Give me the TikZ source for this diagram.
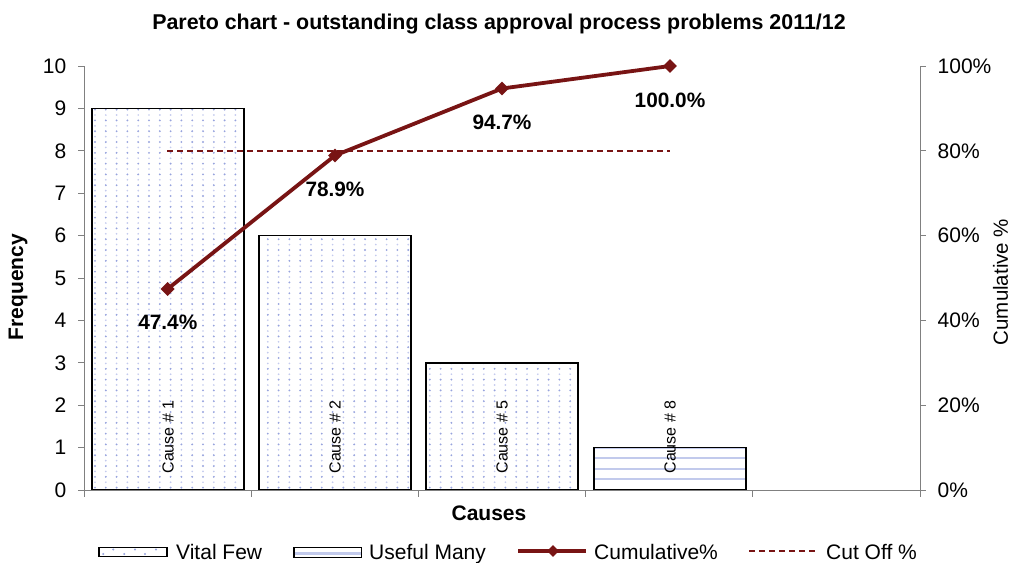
\documentclass[tikz,border=0pt]{standalone}
\usepackage{fontspec}
\setmainfont{Liberation Sans}
\usetikzlibrary{shapes.geometric}
\definecolor{maroon}{HTML}{781414}
\definecolor{dotblue}{HTML}{97A3DD}
\definecolor{dotlight}{HTML}{C4CBEE}
\definecolor{lineblue}{HTML}{C2CAEC}
\definecolor{axisgray}{HTML}{808080}
% #1,#2,#3,#4 = bar box; #5,#6 = first and last column index of the global dot grid
\newcommand\mydotgrid[6]{%
  \begin{scope}
    \clip (#1,#2) rectangle (#3,#4);
    \foreach \i in {#5,...,#6}{
      \foreach \j in {0,...,35}{
        \fill[dotblue] ({95+\i*10.8},{109.6+\j*10.8}) circle (1.05);
        \fill[dotlight] ({95+\i*10.8},{115+\j*10.8}) circle (0.95);
      }
    }
  \end{scope}}
\begin{document}
\begin{tikzpicture}[x=1pt,y=-1pt,
  ticklab/.style={font=\fontsize{21}{24}\selectfont, inner sep=0pt},
  axisline/.style={draw=axisgray, line width=1pt},
  barbox/.style={draw=black, line width=1.6pt},
  causelab/.style={font=\fontsize{16}{19}\selectfont, rotate=90, inner sep=0pt},
  pctlab/.style={font=\bfseries\fontsize{20.8}{24}\selectfont, inner sep=0pt},
  axtitle/.style={font=\bfseries\fontsize{21}{24}\selectfont, inner sep=0pt},
  cumline/.style={draw=maroon, line width=3.8pt, line join=round},
  marker/.style={diamond, fill=maroon, inner sep=0pt, minimum width=14pt, minimum height=14pt},
  cutline/.style={draw=maroon, line width=1.6pt, dash pattern=on 6pt off 4pt},
  legtext/.style={font=\fontsize{21}{24}\selectfont, anchor=base west, inner sep=0pt}]
\useasboundingbox (0,0) rectangle (1011,562);
\fill[white] (0,0) rectangle (1011,562);

% title
\node[font=\bfseries\fontsize{21.4}{25}\selectfont, inner sep=0pt] (title) at (499,24) {Pareto chart - outstanding class approval process problems 2011/12};

% bars
\mydotgrid{92}{108.4}{244}{490}{0}{13}
\mydotgrid{259}{235.6}{411}{490}{16}{29}
\mydotgrid{426}{362.8}{578}{490}{31}{44}
\begin{scope}
  \clip (594,447.6) rectangle (746,490);
  \foreach \yy in {447.8,458.3,468.6,479.2}
    \draw[lineblue, line width=2.2pt] (594,\yy) -- (746,\yy);
\end{scope}
\draw[barbox] (92,490) rectangle (244,108.4) coordinate (bar1);
\draw[barbox] (259,490) rectangle (411,235.6) coordinate (bar2);
\draw[barbox] (426,490) rectangle (578,362.8) coordinate (bar3);
\draw[barbox] (594,490) rectangle (746,447.6) coordinate (bar4);

\node[causelab] (c1) at (168,437) {Cause \# 1};
\node[causelab] (c2) at (335,437) {Cause \# 2};
\node[causelab] (c3) at (502,437) {Cause \# 5};
\node[causelab] (c4) at (670,437) {Cause \# 8};

% axes
\draw[axisline] (84,66) -- (84,490);
\draw[axisline] (920,66) -- (920,497);
\draw[axisline] (84,490) -- (920,490);
\foreach \k in {0,...,10}{
  \draw[axisline] (78,{490-42.4*\k}) -- (84,{490-42.4*\k});
  \node[ticklab, anchor=east] (yl\k) at (66.5,{490-42.4*\k}) {\k};
}
\foreach \k/\p in {0/0\%,1/20\%,2/40\%,3/60\%,4/80\%,5/100\%}{
  \draw[axisline] (920,{490-84.8*\k}) -- (926,{490-84.8*\k});
  \node[ticklab, anchor=west] (yr\k) at (937.5,{490-84.8*\k}) {\p};
}
\foreach \xx in {84,251.2,418.4,585.6,752.8,920}
  \draw[axisline] (\xx,490) -- (\xx,497);

\node[axtitle] (xlab) at (489,513) {Causes};
\node[axtitle, rotate=90] (ylab) at (18,287) {Frequency};
\node[font=\fontsize{20.5}{24}\selectfont, rotate=90, inner sep=0pt] (y2lab) at (1000.5,282) {Cumulative \%};

% cut off
\coordinate (co1) at (167,150.8);
\coordinate (co2) at (670,150.8);
\draw[cutline] (co1) -- (co2);

% cumulative
\coordinate (p1) at (167.6,289);
\coordinate (p2) at (335,155.5);
\coordinate (p3) at (502,88.5);
\coordinate (p4) at (670,66);
\draw[cumline] (p1) -- (p2) -- (p3) -- (p4);
\foreach \k in {1,...,4} \node[marker] (m\k) at (p\k) {};

\node[pctlab] (l1) at (167.8,322.5) {47.4\%};
\node[pctlab] (l2) at (335,189) {78.9\%};
\node[pctlab] (l3) at (502,122) {94.7\%};
\node[pctlab] (l4) at (670,100) {100.0\%};

% legend
\begin{scope}
  \clip (99,547.3) rectangle (167,556.7);
  \foreach \xx/\yy in {103.3/554,113.3/549.5,124.3/554,135/549.5,145/554,156/549.5}
    \fill[dotblue] (\xx,\yy) circle (1.1);
\end{scope}
\draw[black, line width=1.3pt] (99,547.3) rectangle (167,556.7);
\node[legtext] (lg1) at (176,559) {Vital Few};
\draw[lineblue, line width=3pt] (294,553.3) -- (361.7,553.3);
\draw[black, line width=1.3pt] (294,547.3) rectangle (361.7,557.3);
\node[legtext] (lg2) at (369,559) {Useful Many};
\coordinate (la) at (518,551);
\coordinate (lb) at (586,551);
\draw[cumline] (la) -- (lb);
\node[marker, minimum width=12pt, minimum height=12pt] (lgm) at (553,551) {};
\node[legtext] (lg3) at (594,559) {Cumulative\%};
\coordinate (lc) at (749,551);
\coordinate (ld) at (815,551);
\draw[cutline] (lc) -- (ld);
\node[legtext] (lg4) at (826,559) {Cut Off \%};
\end{tikzpicture}
\end{document}
